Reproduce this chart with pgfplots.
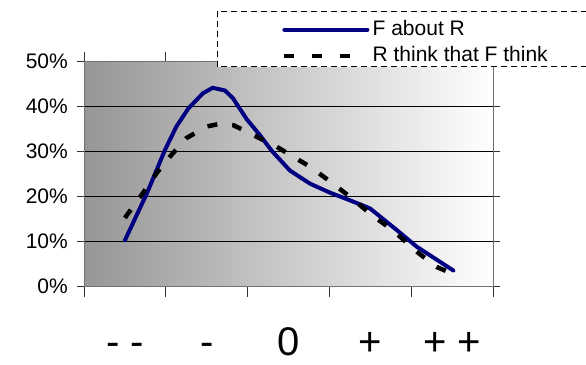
\documentclass[border=0pt]{standalone}
\usepackage{fontspec}
\setmainfont{Liberation Sans}
\usepackage{pgfplots}
\pgfplotsset{compat=1.18}
\definecolor{navyline}{RGB}{0,0,128}
\definecolor{bgleft}{RGB}{150,150,150}
\begin{document}
\begin{tikzpicture}
\useasboundingbox (0,0) rectangle (586pt,364pt);
\begin{axis}[
  at={(84pt,77.3pt)}, anchor=south west,
  width=409pt, height=225pt, scale only axis,
  xmin=0, xmax=5, ymin=0, ymax=50,
  clip=false,
  axis background/.style={left color=bgleft, right color=white},
  axis line style={draw=black!55, line width=1pt},
  tick align=outside,
  major tick length=7pt,
  tick style={black!80, line width=0.8pt},
  xtick={0,1,2,3,4,5}, xticklabels={,,,,,},
  xtick style={/pgfplots/major tick length=10pt},
  extra x ticks={0.5,1.5,2.5,3.5,4.5},
  extra x tick labels={- -,-,0,+,+ +},
  extra x tick style={major tick length=0pt, tick style={draw=none},
    tick label style={font=\fontsize{40}{40}\selectfont, inner sep=0pt, text height=29pt, text depth=0pt, yshift=-39.5pt}},
  ytick={0,10,...,50},
  yticklabel={\pgfmathprintnumber{\tick}\%},
  /pgf/number format/assume math mode=true,
  yticklabel style={font=\fontsize{21}{21}\selectfont, inner sep=0pt, xshift=-9pt},
  ymajorgrids, major grid style={black, line width=0.8pt},
  legend style={draw=none, fill=none, at={(0.484,1.185)}, anchor=north west,
    inner sep=0pt, row sep=7pt, column sep=3pt,
    font=\fontsize{21}{21}\selectfont,
    nodes={inner sep=0pt, text height=15pt, text depth=4pt, anchor=west}},
  legend cell align=left,
  legend image code/.code={\draw[#1] (0pt,0pt) -- (83pt,0pt);},
]
\draw[black, line width=0.8pt, dash pattern=on 6pt off 4pt, fill=white]
  (rel axis cs:0.3252,1.2253) rectangle (rel axis cs:1.35,0.9778);
\addplot[navyline, line width=4pt, line join=round, line cap=round, forget plot] coordinates {
(0.5,10.3) (0.77,20.8) (0.99,30.4) (1.13,35.6) (1.275,39.6) (1.455,43.0) (1.573,44.2)
(1.724,43.6) (1.82,41.9) (1.99,37.2) (2.15,33.7) (2.295,30.2) (2.518,25.8)
(2.763,22.9) (3.007,20.9) (3.25,19.2) (3.496,17.4) (3.823,12.6) (4.067,8.9) (4.515,3.6)
};
\addplot[black, line width=4.5pt, dash pattern=on 10pt off 15pt, forget plot] coordinates {
(0.5,15.3) (0.72,20.8) (0.89,25.3) (1.07,29.3) (1.25,33.0) (1.5,35.6) (1.66,36.2)
(1.825,35.9) (2.07,33.7) (2.355,31.1) (2.52,29.3) (2.76,26.7) (3.0,23.5) (3.25,20.0)
(3.52,15.9) (3.8,12.2) (4.03,8.3) (4.31,4.4) (4.45,3.3)
};
\addlegendimage{navyline, line width=4pt, line cap=round}
\addlegendentry{F about R}
\addlegendimage{black, line width=4.5pt, dash pattern=on 10pt off 18pt}
\addlegendentry{R think that F think}
\end{axis}
\end{tikzpicture}
\end{document}
